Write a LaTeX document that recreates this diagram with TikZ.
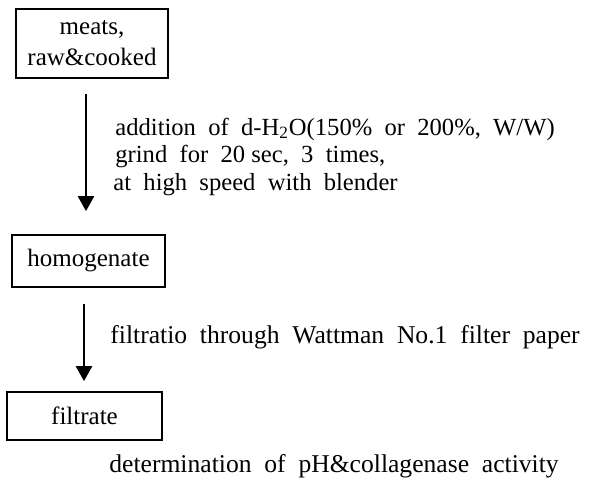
\documentclass[tikz,border=0pt]{standalone}
\usepackage{fontspec}
\setmainfont{Liberation Serif}
\usetikzlibrary{arrows.meta,positioning}

\begin{document}
\begin{tikzpicture}[
  x=0.5pt,y=-0.5pt,
  every node/.style={font=\fontsize{12.5}{15.5}\selectfont},
  stage/.style={draw,line width=.85pt,inner sep=2pt,align=center},
  flow/.style={line width=1.2pt,-{Triangle[length=7.5pt,width=8pt]}},
  note/.style={anchor=base west,inner sep=0pt,font=\fontsize{12.3}{15}\selectfont},
  lownote/.style={note,font=\fontsize{12.8}{15}\selectfont}
]
% Bounding box.
\useasboundingbox (0,0) rectangle (596,489);
% Stages.
\node[stage,minimum width=76pt,minimum height=34.5pt] (meats) at (92,43.5)
  {meats,\\raw\&cooked};
\node[stage,minimum width=76.5pt,minimum height=26pt] (homog) at (88.5,261)
  {homogenate};
\node[stage,minimum width=77.5pt,minimum height=24pt] (filtr) at (84.5,416)
  {filtrate};

% Steps between the stages.
\draw[flow] ([xshift=-3pt,yshift=-7.5pt]meats.south) coordinate (a0)
  -- ([yshift=11.5pt]a0 |- homog.north);
\draw[flow] ([xshift=-2.25pt,yshift=-8pt]homog.south) coordinate (b0)
  -- ([yshift=5pt]b0 |- filtr.north);

\node[note] (addwater) at (115,135) {addition\ \ of\ \ d-H\textsubscript{2}O(150\%\ \ or\ \ 200\%,\ \ W/W)};
\node[note] (grind) at (115,162) {grind\ \ for\ \ 20 sec,\ \ 3\ \ times,};
\node[note] (blender) at (113,190) {at\ \ high\ \ speed\ \ with\ \ blender};
\node[lownote] (filtering) at (110,343) {filtratio\ \ through\ \ Wattman\ \ No.1\ \ filter\ \ paper};
\node[lownote] (assay) at (109,472) {determination\ \ of\ \ pH\&collagenase\ \ activity};
\end{tikzpicture}
\end{document}
